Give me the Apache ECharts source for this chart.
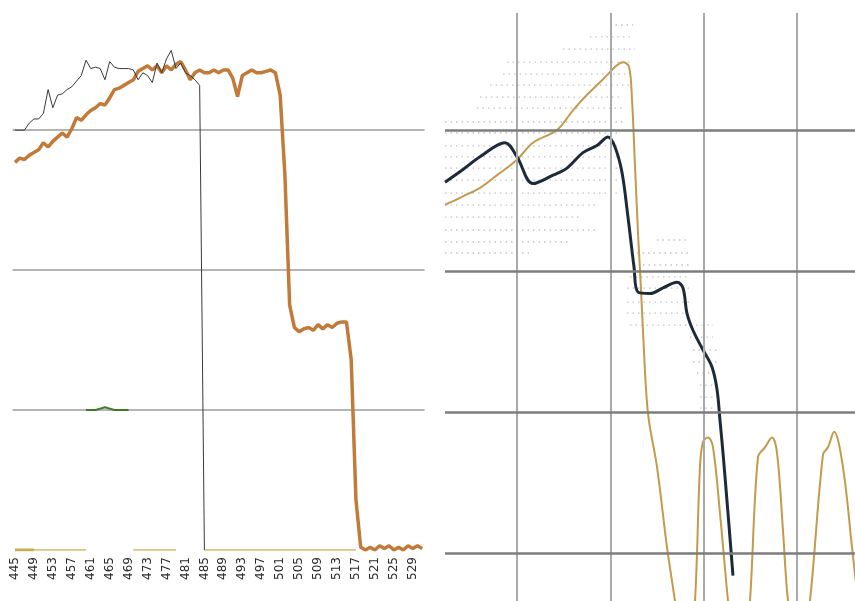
<!DOCTYPE html>
<html><head><meta charset="utf-8">
<script src="https://cdn.jsdelivr.net/npm/echarts@6/dist/echarts.min.js"></script>
<style>html,body{margin:0;padding:0;background:#fff}#c{width:855px;height:601px}</style>
</head><body><div id="c"></div>
<script>
// ---------- Left panel (category axis 445..531) ----------
var leftCats = [445,446,447,448,449,450,451,452,453,454,455,456,457,458,459,460,461,462,463,464,
  465,466,467,468,469,470,471,472,473,474,475,476,477,478,479,480,481,482,483,484,
  485,486,487,488,489,490,491,492,493,494,495,496,497,498,499,500,501,502,503,504,
  505,506,507,508,509,510,511,512,513,514,515,516,517,518,519,520,521,522,523,524,
  525,526,527,528,529,530,531];

// thin dark line, 445..485
var leftThin = [300,300,300,305,308,308,312,329,316,325,326,329,331,335,339,350,344,345,344,336,
  349,345,344,344,344,343,336,341,339,334,348,341,351,357,344,348,341,339,336,332,0];

// thick orange line, 445..531
var leftOrange = [277,280,279,282,284,286,291,288,292,295,298,295,301,309,307,311,314,316,319,318,
  323,329,330,332,334,336,342,344,346,343,346,341,346,343,347,349,343,336,341,343,
  341,341,343,341,343,343,337,324,339,341,343,341,341,342,343,341,325,268,175,159,
  156,158,159,157,161,158,161,159,162,163,163,136,36,2,0,2,0,3,1,3,
  0,2,0,3,1,3,1];

// olive base line (segments at zero)
var leftOlive = [0,0,0,0,0,0,0,0,0,0,0,0,0,0,0,0,null,null,null,null,
  null,null,null,null,null,0,0,0,0,0,0,0,0,0,0,null,null,null,null,null,
  0,0,0,0,0,0,0,0,0,0,0,0,0,0,0,0,0,0,0,0,
  0,0,0,0,0,0,0,0,0,0,0,0,0,null,null,null,null,null,null,null,
  null,null,null,null,null,null,null];
var leftOliveThick = [0,0,0,0,0];

// small green segment near 100, 460..469
var greenStart = 460;
var leftGreen = [100,100,100,101,102,101,100,100,100,100];

// ---------- Right panel (value axes) ----------
var rightXLines = [10,20,30,40];
var rightYLines = [100,200,300,400];

var rightNavy = [[2.28,363],[4.21,372],[6.03,381],[8.71,391],[10,381],[11.71,362],[13.86,368],
  [15.36,373],[17.07,384],[18.57,389],[19.75,395],[20.5,388],[21.25,370],[21.9,338],[22.54,303],
  [22.97,285],[24.26,284],[25.65,288],[27.15,292],[27.79,288],[28.22,270],[28.86,258],[29.94,244],
  [30.9,232],[31.44,216],[31.76,194],[32.08,171],[32.62,128],[33.15,84]];

var rightOrange = [[2.28,347],[4.21,353],[6.03,359],[7.86,368],[10,379],[11.71,391],[14.29,400],
  [16.0,414],[17.5,425],[19.22,436],[20.72,446],[21.36,448],[22.0,445],[22.33,421],[22.65,374],
  [22.97,327],[23.29,287],[23.5,258],[24.04,199],[25.01,161],[26.08,104],[26.93,66],[27.47,38],
  [28.0,31],[28.54,38],[29.08,66],[29.61,161],[29.94,179],[30.48,182],[31.01,175],[31.76,128],
  [32.62,66],[33.15,38],[34.44,38],[34.97,66],[35.83,168],[36.58,175],[37.33,182],[37.87,171],
  [38.51,116],[39.05,66],[39.8,38],[40.65,38],[41.4,66],[42.8,170],[43.33,175],[43.98,186],
  [44.94,161],[45.91,104],[46.55,66]];

// faint dotted texture rows: [y, xStart, xEnd]
var rightDotRows = [
  [474.5,19.97,22.43],[466,17.82,22.43],[457.4,14.93,22.65],[448.2,8.93,22.43],[439.7,8.5,22.11],
  [431.9,7.11,22.11],[423.4,6.03,21.04],[415.6,5.71,21.36],[405.7,2.28,21.36],[397.9,2.28,21.04],
  [388.7,2.28,20.72],[380.9,2.28,20.72],[373.0,2.28,20.72],[364.5,2.28,20.72],[355.3,2.28,21.04],
  [346.8,2.28,18.57],[338.3,2.28,16.75],[329.1,2.28,18.57],[320.6,2.28,15.68],[312.8,2.28,11.39],
  [322,25.0,28.54],[312.8,22.86,28.54],[304.3,23.5,28.54],[295.7,22.11,28.54],[287.9,21.79,28.54],
  [278,21.79,28.54],[270.2,21.79,28.22],[261.7,22.11,31.0],[253.2,28.54,31.0],[244,28.86,31.44],
  [235.5,28.86,31.44],[227.7,29.28,31.44],[219.1,29.6,31.76],[210.6,29.6,31.44],[202.8,29.6,31.0]
];

function pad(arr, start, total) {
  var out = [];
  for (var i = 0; i < total; i++) {
    var k = i - start;
    out.push(k >= 0 && k < arr.length ? arr[k] : null);
  }
  return out;
}

var chart = echarts.init(document.getElementById('c'), null, {renderer: 'canvas'});
var gridMarks = rightXLines.map(function (v) {
  return {xAxis: v, lineStyle: {color: '#a9a9a9', width: 2, type: 'solid'}};
}).concat(rightYLines.map(function (v) {
  return {yAxis: v, lineStyle: {color: '#7d7d7d', width: 2.5, type: 'solid'}};
}));

var series = [
  {type: 'line', xAxisIndex: 0, yAxisIndex: 0, data: leftOlive, symbol: 'none', z: 2,
   lineStyle: {color: '#c9b25a', width: 1.5}},
  {type: 'line', xAxisIndex: 0, yAxisIndex: 0, data: pad(leftOliveThick, 0, leftCats.length), symbol: 'none', z: 2,
   lineStyle: {color: '#c8ad55', width: 3}},
  {type: 'line', xAxisIndex: 0, yAxisIndex: 0, data: pad(leftGreen, greenStart - leftCats[0], leftCats.length),
   symbol: 'none', z: 2, lineStyle: {color: '#3d7a2a', width: 2}},
  {type: 'line', xAxisIndex: 0, yAxisIndex: 0, data: leftOrange, symbol: 'none', z: 3,
   lineStyle: {color: '#c27a38', width: 3.5}},
  {type: 'line', xAxisIndex: 0, yAxisIndex: 0, data: pad(leftThin, 0, leftCats.length), symbol: 'none', z: 4,
   lineStyle: {color: '#3a3a3a', width: 1}},
  {type: 'line', xAxisIndex: 1, yAxisIndex: 1, data: [], symbol: 'none', z: 1,
   markLine: {silent: true, symbol: ['none', 'none'], label: {show: false}, animation: false, data: gridMarks}}
];
rightDotRows.forEach(function (r) {
  series.push({type: 'line', xAxisIndex: 1, yAxisIndex: 1, data: [[r[1], r[0]], [r[2], r[0]]],
    symbol: 'none', silent: true, z: 1,
    lineStyle: {color: '#c4c4c4', width: 1.3, type: [1.5, 4]}});
});
series.push(
  {type: 'line', xAxisIndex: 1, yAxisIndex: 1, data: rightOrange, symbol: 'none', smooth: 0.35, clip: true, z: 3,
   lineStyle: {color: '#c49a4c', width: 2}},
  {type: 'line', xAxisIndex: 1, yAxisIndex: 1, data: rightNavy, symbol: 'none', smooth: 0.35, clip: true, z: 4,
   lineStyle: {color: '#1d2a3a', width: 3}}
);

chart.setOption({
  animation: false,
  backgroundColor: '#ffffff',
  grid: [
    {left: 12.6, top: 0, width: 412, height: 550, outerBoundsMode: 'none', containLabel: false},
    {left: 445, top: 13, right: 0, bottom: 0, outerBoundsMode: 'none', containLabel: false}
  ],
  xAxis: [
    {type: 'category', gridIndex: 0, data: leftCats, boundaryGap: true,
     axisLine: {show: false}, axisTick: {show: false}, splitLine: {show: false},
     axisLabel: {interval: 3, rotate: 90, fontSize: 12, color: '#2a2a2a', margin: 7, fontFamily: 'DejaVu Sans'}},
    {type: 'value', gridIndex: 1, min: 2.28, max: 46.23, show: false, splitLine: {show: false}}
  ],
  yAxis: [
    {type: 'value', gridIndex: 0, min: 0, max: 393, interval: 100,
     axisLine: {show: false}, axisTick: {show: false}, axisLabel: {show: false},
     splitLine: {show: true, showMinLine: false, showMaxLine: false, lineStyle: {color: '#9c9c9c', width: 1.5}}},
    {type: 'value', gridIndex: 1, min: 66, max: 483, show: false, splitLine: {show: false}}
  ],
  series: series
});
</script></body></html>
